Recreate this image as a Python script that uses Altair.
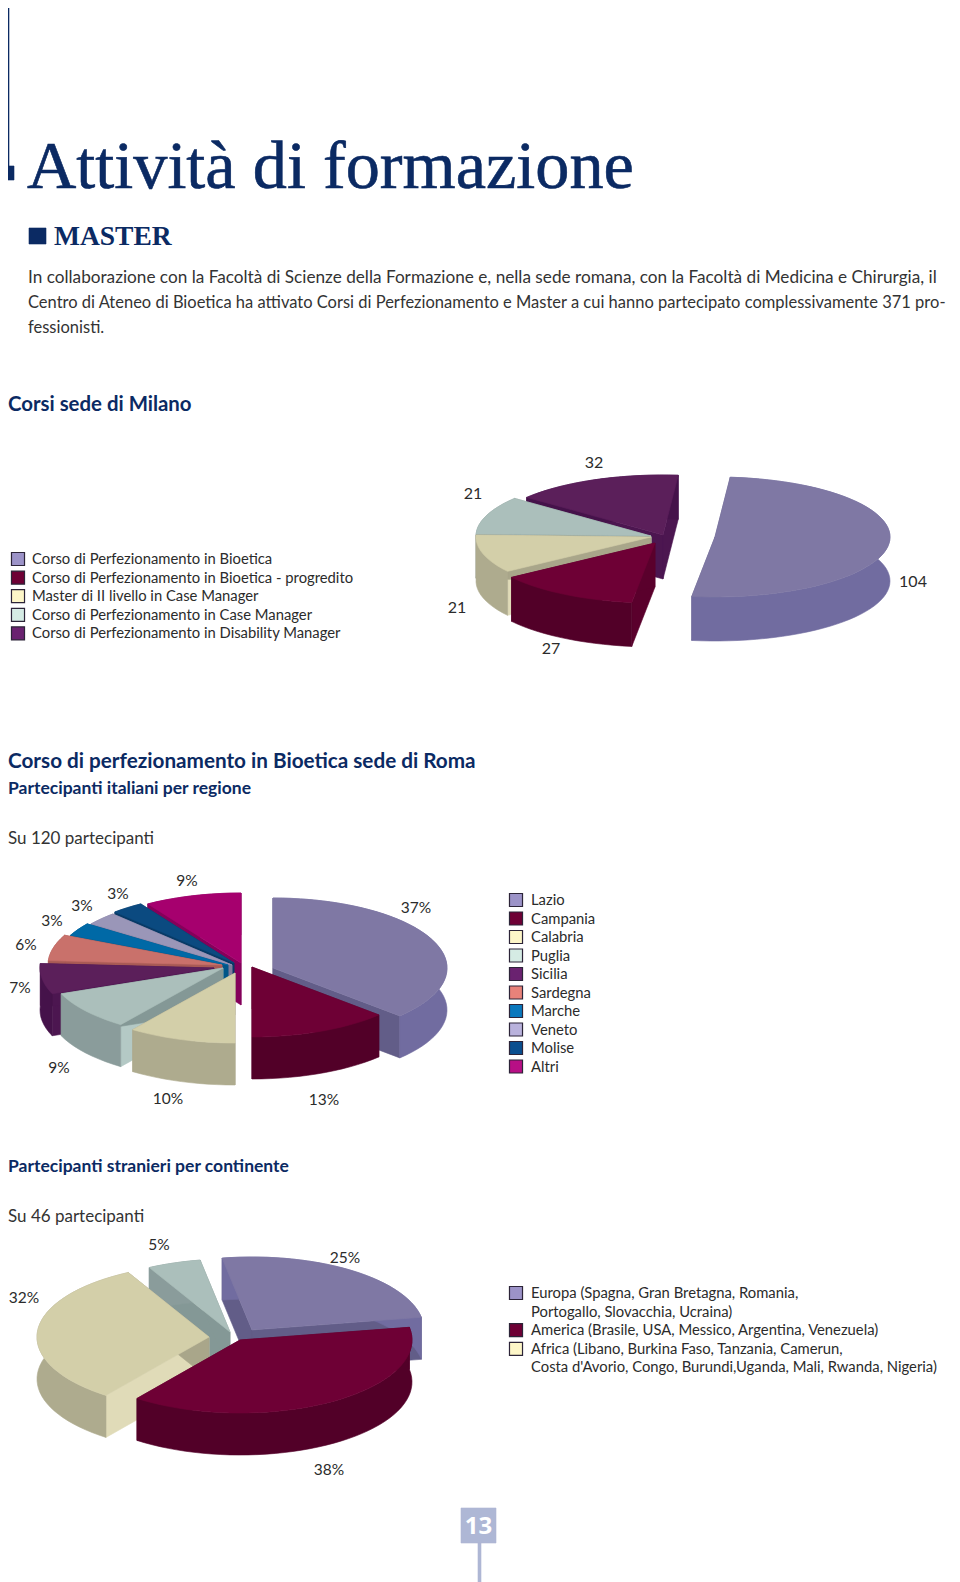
import math
import altair as alt
import pandas as pd

# ---- values ----
milano_labels = ["Corso di Perfezionamento in Bioetica", "Corso di Perfezionamento in Bioetica - progredito",
                 "Master di II livello in Case Manager", "Corso di Perfezionamento in Case Manager",
                 "Corso di Perfezionamento in Disability Manager"]
milano_values = [104, 27, 21, 21, 32]
roma_labels = ["Lazio", "Campania", "Calabria", "Puglia", "Sicilia", "Sardegna", "Marche", "Veneto", "Molise", "Altri"]
roma_values = [37, 13, 10, 9, 7, 6, 3, 3, 3, 9]
stranieri_values = [25, 38, 32, 5]
stranieri_legend = [("Europa (Spagna, Gran Bretagna, Romania,", 0), ("Portogallo, Slovacchia, Ucraina)", None),
                    ("America (Brasile, USA, Messico, Argentina, Venezuela)", 1),
                    ("Africa (Libano, Burkina Faso, Tanzania, Camerun,", 2),
                    ("Costa d'Avorio, Congo, Burundi,Uganda, Mali, Rwanda, Nigeria)", None)]
paragraph = ["In collaborazione con la Facoltà di Scienze della Formazione e, nella sede romana, con la Facoltà di Medicina e Chirurgia, il",
             "Centro di Ateneo di Bioetica ha attivato Corsi di Perfezionamento e Master a cui hanno partecipato complessivamente 371 pro-",
             "fessionisti."]

# ---- styles ----
NAVY = "#0b2a63"
INK = "#2b2b2b"
BODY = "Lato"
# top, wall, light cut face, dark cut face
SLATE = ("#7f78a4", "#716ca0", "#625d88", "#625d88")
MAROON = ("#6e0035", "#520028", "#5a002c", "#5a002c")
CREAM = ("#d3cfa9", "#aeab8e", "#e0dbb8", "#a9a68a")
SAGE = ("#abbfbb", "#8a9c9b", "#b4c9c5", "#849896")
PURPLE = ("#5b1f5a", "#45124a", "#4c1650", "#4c1650")
SALMON = ("#c9716b", "#a85a55", "#a85a55", "#a85a55")
BLUE = ("#0069a6", "#005588", "#005588", "#005588")
LAV = ("#9a96b8", "#7f7b9c", "#7f7b9c", "#7f7b9c")
DEEP = ("#0b4a80", "#083a66", "#083a66", "#083a66")
MAG = ("#a6006e", "#85005a", "#85005a", "#85005a")

LEG1 = ["#9c93c8", "#6e0035", "#fdf6c8", "#d5ebe4", "#6a2270"]
LEG2 = ["#9c93c8", "#6e0035", "#fdf6c8", "#d5ebe4", "#6a2270", "#e8827a", "#0a78bd", "#b9b2dc", "#0a4f8f", "#b80f85"]

XS = alt.Scale(domain=[8, 952], nice=False, zero=False, padding=0)
YS = alt.Scale(domain=[1582, 8], nice=False, zero=False, padding=0)
layers = []


def enc(ch):
    return ch.encode(x=alt.X("x:Q", scale=XS, axis=None), y=alt.Y("y:Q", scale=YS, axis=None))


def poly(points, color):
    pts = points + [points[0]]
    df = pd.DataFrame({"x": [p[0] for p in pts], "y": [p[1] for p in pts], "i": range(len(pts))})
    ch = alt.Chart(df).mark_line(fill=color, stroke=color, strokeWidth=0.6, strokeJoin="round")
    layers.append(ch.encode(x=alt.X("x:Q", scale=XS, axis=None), y=alt.Y("y:Q", scale=YS, axis=None), order="i:Q"))


def text(s, x, y, size, font=BODY, weight="normal", color=INK, align="left", stroke=None):
    df = pd.DataFrame({"x": [x], "y": [y], "t": [s]})
    opts = dict(font=font, fontSize=size, fontWeight=weight, color=color, align=align, baseline="alphabetic")
    if stroke:
        opts.update(stroke=color, strokeWidth=stroke)
    layers.append(enc(alt.Chart(df).mark_text(**opts)).encode(text="t:N"))


def pie(values, start, a, b, d, apexes, styles):
    total = sum(values)
    th = start
    walls, tops = [], []
    for v, (cx, cy), st in zip(values, apexes, styles):
        span = 360 * v / total
        n = max(4, int(span / 3))
        rim = []
        for k in range(n + 1):
            t = math.radians(th + span * k / n)
            rim.append((cx + a * math.sin(t), cy - b * math.cos(t)))
        key = -math.cos(math.radians(th + span / 2))
        start_face = st[2] if 180 < (th % 360) < 270 else st[3]
        walls.append((key, rim, (cx, cy), st, start_face))
        tops.append((key, [(cx, cy)] + rim, st))
        th += span
    walls.sort(key=lambda w: w[0])
    tops.sort(key=lambda w: w[0])
    for _, rim, apex, st, start_face in walls:
        for edge, col in ((rim[0], start_face), (rim[-1], st[3])):
            poly([apex, edge, (edge[0], edge[1] + d), (apex[0], apex[1] + d)], col)
        poly(rim + [(x, y + d) for x, y in reversed(rim)], st[1])
    for _, pts, st in tops:
        poly(pts, st[0])


def legend(rows, x, x_text, y0, step, colors, size):
    for i, (label, idx) in enumerate(rows):
        y = y0 + i * step
        if idx is not None:
            df = pd.DataFrame({"x": [x], "y": [y]})
            layers.append(enc(alt.Chart(df).mark_square(size=170, fill=colors[idx], stroke="#2c2438",
                                                        strokeWidth=1.2, opacity=1)))
        text(label, x_text, y + 5, size)


# ---- page furniture ----
layers.append(enc(alt.Chart(pd.DataFrame({"x": [8.5, 8.5], "y": [8, 166]})).mark_line(color=NAVY, strokeWidth=1.6)))
poly([(8, 166), (14, 166), (14, 180), (8, 180)], NAVY)
text("Attività di formazione", 27, 188, 68.3, font="Liberation Serif", color=NAVY, stroke=0.6)
poly([(29, 228), (46, 228), (46, 244), (29, 244)], NAVY)
text("MASTER", 54, 245, 27.5, font="Liberation Serif", weight="bold", color=NAVY)
for i, (line, size) in enumerate(zip(paragraph, [17.2, 16.5, 16.5])):
    text(line, 28, 283 + i * 25, size, color="#333333")

text("Corsi sede di Milano", 8, 411, 20.4, weight="bold", color=NAVY)
text("Corso di perfezionamento in Bioetica sede di Roma", 8, 768, 20.7, weight="bold", color=NAVY)
text("Partecipanti italiani per regione", 8, 794, 17.5, weight="bold", color=NAVY)
text("Su 120 partecipanti", 8, 844, 17, color="#333333")
text("Partecipanti stranieri per continente", 8, 1172, 17.5, weight="bold", color=NAVY)
text("Su 46 partecipanti", 8, 1222, 17, color="#333333")

# ---- pie 1 ----
pie(milano_values, 5, 175, 60, 44,
    [(715, 537), (655, 543), (651, 537), (651, 536), (663, 535)],
    [SLATE, MAROON, CREAM, SAGE, PURPLE])
legend([(l, i) for i, l in enumerate(milano_labels)], 18, 32, 559, 18.6, LEG1, 14.8)
for v, x, y in zip(milano_values, [913, 551, 457, 473, 594], [587, 654, 613, 499, 468]):
    text(str(v), x, y, 16, align="center")

# ---- pie 2 ----
pie(roma_values, 0, 174, 70, 42,
    [(273, 968), (252, 967), (235, 973), (223, 968), (214, 968), (222, 965), (228, 965), (232, 965), (234, 963), (241, 963)],
    [SLATE, MAROON, CREAM, SAGE, PURPLE, SALMON, BLUE, LAV, DEEP, MAG])
legend([(l, i) for i, l in enumerate(roma_labels)], 516, 531, 900, 18.5, LEG2, 14.8)
for v, x, y in zip(roma_values, [416, 324, 168, 59, 20, 26, 52, 82, 118, 187],
                   [913, 1105, 1104, 1073, 993, 950, 926, 911, 899, 886]):
    text(f"{v}%", x, y, 15.5, align="center")

# ---- pie 3 ----
pie(stranieri_values, -10, 172, 73, 42,
    [(252, 1330), (240, 1340), (209, 1337), (230, 1332)],
    [SLATE, MAROON, CREAM, SAGE])
legend(stranieri_legend, 516, 531, 1293, 18.6, LEG1, 14.8)
for v, x, y in zip(stranieri_values, [345, 329, 24, 159], [1263, 1475, 1303, 1250]):
    text(f"{v}%", x, y, 15.5, align="center")

# ---- page number ----
poly([(461, 1508), (496, 1508), (496, 1543), (461, 1543)], "#aeb7d5")
poly([(478, 1543), (481, 1543), (481, 1582), (478, 1582)], "#aeb7d5")
text("13", 478.5, 1534, 24, font="Open Sans", weight="bold", color="#ffffff", align="center")

chart = alt.layer(*layers).properties(width=944, height=1574, padding=0,
                                      autosize=alt.AutoSizeParams(type="none")).configure_view(stroke=None)
chart.save("out.html", embed_options={"renderer": "svg", "actions": False})
